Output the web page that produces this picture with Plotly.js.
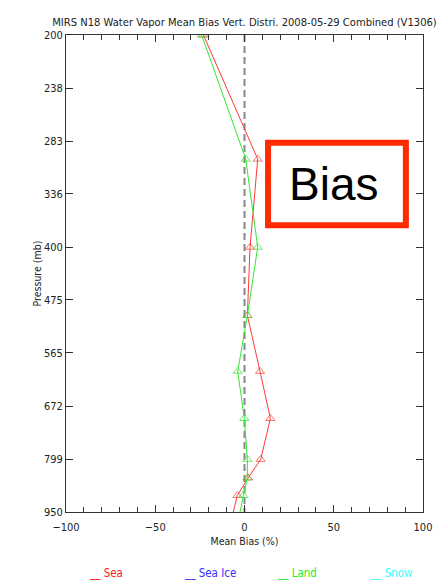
<!DOCTYPE html>
<html>
<head>
<meta charset="utf-8">
<script src="https://cdn.plot.ly/plotly-3.0.1.min.js"></script>
<style>
  html, body { margin: 0; padding: 0; background: #fff; }
  #chart { width: 439px; height: 581px; }
</style>
</head>
<body>
<div id="chart"></div>
<script>
// ---- data ----
const pressure = [200, 300, 400, 500, 600, 700, 800, 850, 900, 950];
const seaBias  = [-23, 7.4, 3.1, 1.6, 8.7, 14.5, 9.1, 2.0, -4.0, -6.3];
const landBias = [-24, 0.7, 7.4, 1.6, -3.8, -0.1, 1.6, 1.6, -0.7, -2.5];
const pressureTicks = [200, 238, 283, 336, 400, 475, 565, 672, 799, 950];
const biasTicks = [-100, -50, 0, 50, 100];
const zeroLineX = [0, 0];
const zeroLineP = [200, 950];
const legendNames  = ['Sea', 'Sea Ice', 'Land', 'Snow'];
const legendColors = ['#ff2020', '#3030ff', '#22ee22', '#33ffff'];
const titleText = 'MIRS N18 Water Vapor Mean Bias Vert. Distri. 2008-05-29 Combined (V1306)';

const FONT = '"DejaVu Sans Condensed", "Liberation Sans", sans-serif';
const markerSizes = pressure.map(p => (p >= 950 ? 0 : 8));

const traces = [
  {
    x: zeroLineX, y: zeroLineP, mode: 'lines', showlegend: false, hoverinfo: 'skip',
    line: { color: '#888888', width: 2, dash: '7px,4px' }
  },
  {
    x: seaBias, y: pressure, mode: 'lines+markers', name: legendNames[0], showlegend: false,
    line: { color: '#ff3a3a', width: 1 },
    marker: { symbol: 'triangle-up-open', size: markerSizes, color: '#ff3a3a', line: { width: 1 } }
  },
  {
    x: landBias, y: pressure, mode: 'lines+markers', name: legendNames[2], showlegend: false,
    line: { color: '#33e633', width: 1 },
    marker: { symbol: 'triangle-up-open', size: markerSizes, color: '#33e633', line: { width: 1 } }
  }
];

// legend drawn as text items under the plot
const legendX = [0.06, 0.325, 0.585, 0.845];
const annotations = legendNames.map((n, i) => ({
  xref: 'paper', yref: 'paper', x: legendX[i], y: -0.128, xanchor: 'left', yanchor: 'middle',
  text: '__ ' + n, showarrow: false,
  font: { family: FONT, size: 11.5, color: legendColors[i] }
}));
annotations.push({
  xref: 'paper', yref: 'paper', x: 0.748, y: 0.688, xanchor: 'center', yanchor: 'middle',
  text: 'Bias', showarrow: false,
  font: { family: '"Liberation Sans", Arial, sans-serif', size: 46, color: '#000' }
});

const layout = {
  width: 439, height: 581,
  margin: { l: 66, r: 16, t: 35, b: 69 },
  paper_bgcolor: '#fff', plot_bgcolor: '#fff',
  font: { family: FONT, size: 11, color: '#222' },
  showlegend: false,
  title: {
    text: titleText, xref: 'paper', x: 0.5, xanchor: 'center',
    yref: 'container', y: 0.962, yanchor: 'middle',
    font: { family: FONT, size: 11.1, color: '#222' }
  },
  xaxis: {
    range: [-100, 100], tickvals: biasTicks, ticktext: biasTicks.map(v => v < 0 ? '\u2212' + Math.abs(v) : String(v)),
    ticks: 'inside', ticklen: 7, tickcolor: '#333', tickwidth: 1, ticklabelstandoff: 5,
    minor: { dtick: 10, ticks: 'inside', ticklen: 5, tickcolor: '#333', showgrid: false },
    showline: true, linecolor: '#333', linewidth: 1, mirror: 'ticks',
    showgrid: false, zeroline: false,
    title: { text: 'Mean Bias (%)', font: { family: FONT, size: 10.5, color: '#222' }, standoff: 4 }
  },
  xaxis2: {
    overlaying: 'x', side: 'top', matches: 'x', range: [-100, 100],
    dtick: 10, tick0: 0, ticks: 'inside', ticklen: 5, tickcolor: '#333',
    showticklabels: false, showgrid: false, zeroline: false, showline: false
  },
  yaxis: {
    type: 'log', range: [Math.log10(950), Math.log10(200)],
    tickvals: pressureTicks, ticktext: pressureTicks.map(String),
    ticks: 'inside', ticklen: 7, tickcolor: '#333', tickwidth: 1,
    showline: true, linecolor: '#333', linewidth: 1, mirror: 'ticks',
    showgrid: false, zeroline: false,
    title: { text: 'Pressure (mb)', font: { family: FONT, size: 10.5, color: '#222' }, standoff: 0 }
  },
  shapes: [{
    type: 'rect', xref: 'paper', yref: 'paper',
    x0: 0.566, x1: 0.952, y0: 0.601, y1: 0.774,
    line: { color: '#ff2a00', width: 6 }, fillcolor: '#ffffff', layer: 'above'
  }],
  annotations: annotations
};

Plotly.newPlot('chart', traces, layout, { displayModeBar: false, staticPlot: true });
</script>
</body>
</html>
